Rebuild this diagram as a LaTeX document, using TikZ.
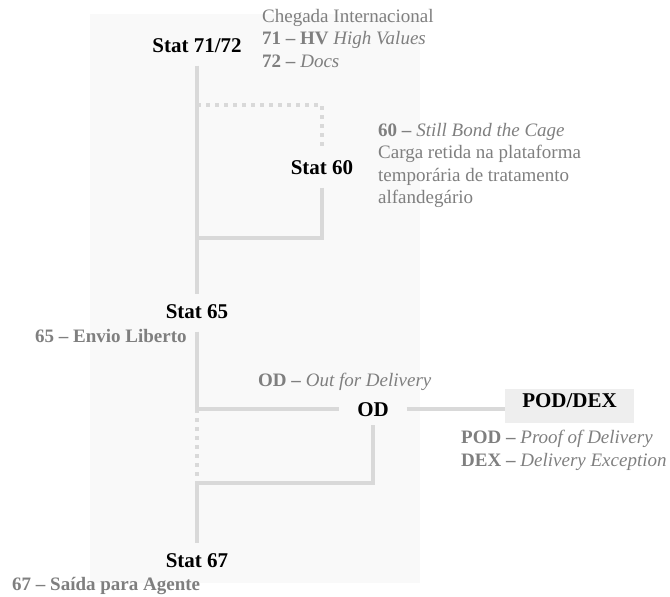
\documentclass[tikz,border=0pt]{standalone}
\usepackage{fontspec}
\setmainfont{Liberation Serif}
\usepackage{xcolor}
\usepackage{tikz}
\definecolor{panelgray}{HTML}{F9F9F9}
\definecolor{linegray}{HTML}{D9D9D9}
\definecolor{notegray}{HTML}{7F7F7F}
\definecolor{boxgray}{HTML}{EEEEEE}

\begin{document}
\begin{tikzpicture}[x=1pt, y=-1pt,
    stat/.style={font=\fontsize{21}{25}\selectfont\bfseries, text height=14.5pt, text depth=4.5pt, inner xsep=4pt, inner ysep=9pt},
    note/.style={font=\fontsize{19}{22.5}\selectfont, text=notegray, align=left, inner sep=0pt},
    track/.style={line width=4pt, draw=linegray},
    dotted track/.style={track, dash pattern=on 4pt off 5pt}
  ]

    \useasboundingbox (0,0) rectangle (670,597);
    \fill[panelgray] (90,14) rectangle (420,583);

    \node[stat] (s7172) at (197,47) {Stat 71/72};
    \node[stat] (s60) at (322,169) {Stat 60};
    \node[stat] (s65) at (197,313) {Stat 65};
    \node[stat, inner xsep=18pt, text depth=0pt] (od) at (373,409) {OD};
    \node[stat] (s67) at (197,562) {Stat 67};
    \node[stat, fill=boxgray, text depth=11pt, inner ysep=4pt, minimum width=129pt, minimum height=34pt] (pod) at (569.5,406) {POD/DEX};

    \node[note, anchor=north west] (n7172) at (262,9) {Chegada Internacional\\ \textbf{71 – HV} \textit{High Values}\\ \textbf{72 –} \textit{Docs}};
    \node[note, anchor=north west] (n60) at (378,123) {\textbf{60 –} \textit{Still Bond the Cage}\\ Carga retida na plataforma\\ temporária de tratamento\\ alfandegário};
    \node[note, anchor=base west] (n65) at (35,342) {\textbf{65 – Envio Liberto}};
    \node[note, anchor=base west] (nod) at (258,386) {\textbf{OD –} \textit{Out for Delivery}};
    \node[note, anchor=north west] (npod) at (461,430) {\textbf{POD –} \textit{Proof of Delivery}\\ \textbf{DEX –} \textit{Delivery Exception}};
    \node[note, anchor=base west] (n67) at (12,590) {\textbf{67 – Saída para Agente}};

    \coordinate (j60a) at (197,105);
    \coordinate (j60b) at (197,238);
    \coordinate (jod) at (s65.south |- od.west);
    \coordinate (jlow) at (197,483);

    \draw[track] (s7172.south) -- (s65.north);
    \draw[dotted track] (j60a) -| (s60.north);
    \draw[track] (s60.south) |- (j60b);
    \draw[track] (s65.south) |- (od.west);
    \draw[dotted track] (jod) -- (jlow);
    \draw[track] (od.south) |- (jlow);
    \draw[track] (jlow) -- (s67.north);
    \draw[track] (od.east) -- (od.east -| pod.west);

  \end{tikzpicture}
\end{document}
